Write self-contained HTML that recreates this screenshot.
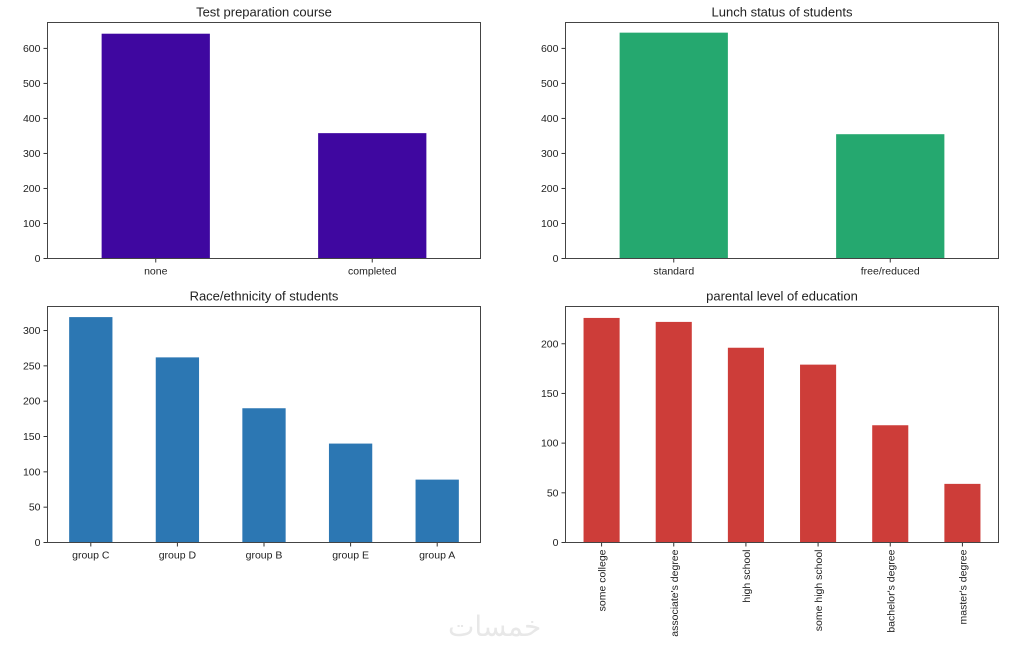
<!DOCTYPE html>
<html><head><meta charset="utf-8">
<style>
html,body{margin:0;padding:0;background:#fff;}
svg{display:block;font-family:"Liberation Sans","DejaVu Sans",sans-serif;}
</style></head>
<body>
<svg id="s" width="1024" height="653" viewBox="0 0 1024 653">
<text x="448" y="636" font-size="28" fill="#e8e8e8" font-family="'DejaVu Sans',sans-serif">خمسات</text>
</svg>
<script>
const prepCategories = ["none", "completed"];
const prepValues = [642, 358];
const prepTicks = [0, 100, 200, 300, 400, 500, 600];
const lunchCategories = ["standard", "free/reduced"];
const lunchValues = [645, 355];
const lunchTicks = [0, 100, 200, 300, 400, 500, 600];
const raceCategories = ["group C", "group D", "group B", "group E", "group A"];
const raceValues = [319, 262, 190, 140, 89];
const raceTicks = [0, 50, 100, 150, 200, 250, 300];
const eduCategories = ["some college", "associate's degree", "high school", "some high school", "bachelor's degree", "master's degree"];
const eduValues = [226, 222, 196, 179, 118, 59];
const eduTicks = [0, 50, 100, 150, 200];

const NS = "http://www.w3.org/2000/svg";
const svg = document.getElementById('s');
function mk(tag, attrs, parent) {
  const e = document.createElementNS(NS, tag);
  for (const k in attrs) e.setAttribute(k, attrs[k]);
  (parent || svg).appendChild(e);
  return e;
}
function chart(key, title, cats, vals, ticks, box, ymax, color, rotate) {
  const g = mk('g', {});
  
  
  const {l, r, t, b} = box;
  const y = v => b - v / ymax * (b - t);
  const step = (r - l) / cats.length;
  const x = i => l + step * (i + 0.5);
  const tt = mk('text', {x: (l + r) / 2, y: t - 6, 'text-anchor': 'middle', 'font-size': 13, fill: '#222'}, g);
  tt.textContent = title;
  
  
  cats.forEach((c, i) => {
    const bw = step * 0.5;
    const rect = mk('rect', {x: x(i) - bw / 2, y: y(vals[i]), width: bw, height: b - y(vals[i]), fill: color}, g);
    
    
    mk('line', {x1: x(i), x2: x(i), y1: b, y2: b + 4, stroke: '#333', 'stroke-width': 1}, g);
    let lab;
    if (rotate) {
      lab = mk('text', {x: 0, y: 0, 'text-anchor': 'end', 'font-size': 10.5, fill: '#222',
        transform: `translate(${x(i) + 4},${b + 7}) rotate(-90)`}, g);
    } else {
      lab = mk('text', {x: x(i), y: b + 16, 'text-anchor': 'middle', 'font-size': 10.5, fill: '#222'}, g);
    }
    lab.textContent = c;
    
    
  });
  ticks.forEach(v => {
    mk('line', {x1: l - 4, x2: l, y1: y(v), y2: y(v), stroke: '#333', 'stroke-width': 1}, g);
    const tl = mk('text', {x: l - 7, y: y(v) + 3.5, 'text-anchor': 'end', 'font-size': 10.5, fill: '#222'}, g);
    tl.textContent = v;
    
    
  });
  const fr = mk('rect', {x: l, y: t, width: r - l, height: b - t, fill: 'none', stroke: '#444', 'stroke-width': 1}, g);
  
  
}
chart('prep', 'Test preparation course', prepCategories, prepValues, prepTicks, {l: 47.5, r: 480.5, t: 22.5, b: 258.5}, 674, '#3f07a0', false);
chart('lunch', 'Lunch status of students', lunchCategories, lunchValues, lunchTicks, {l: 565.5, r: 998.5, t: 22.5, b: 258.5}, 674, '#25a86f', false);
chart('race', 'Race/ethnicity of students', raceCategories, raceValues, raceTicks, {l: 47.5, r: 480.5, t: 306.5, b: 542.5}, 334, '#2c77b3', false);
chart('edu', 'parental level of education', eduCategories, eduValues, eduTicks, {l: 565.5, r: 998.5, t: 306.5, b: 542.5}, 237.5, '#cd3d39', true);
</script>
</body></html>
